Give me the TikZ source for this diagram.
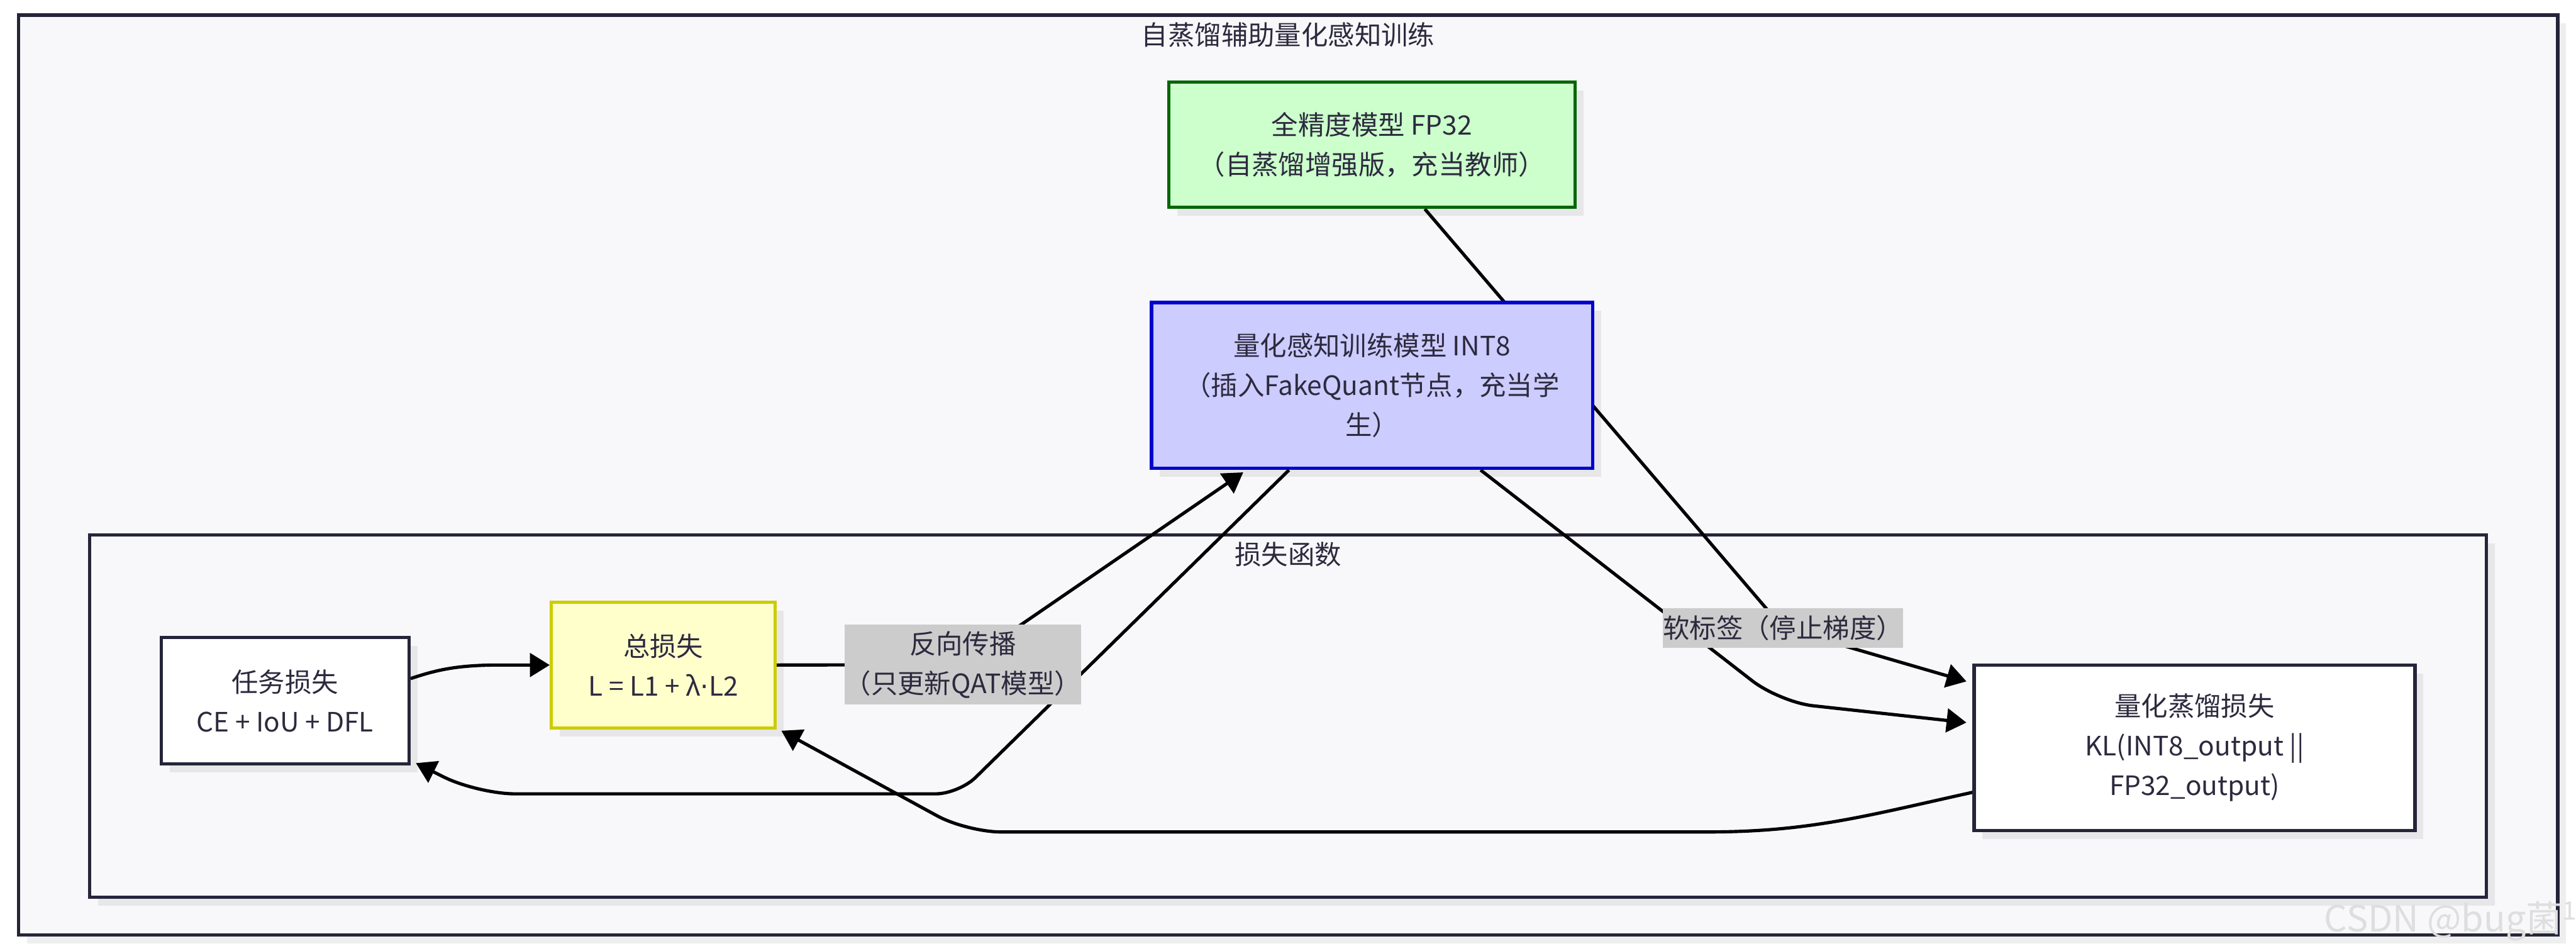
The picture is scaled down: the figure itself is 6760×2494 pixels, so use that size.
\documentclass[tikz,border=0pt]{standalone}
\usepackage{fontspec}
\setmainfont{Noto Sans CJK SC}
\newfontfamily\dotfont{DejaVu Sans}
\usetikzlibrary{arrows.meta,calc,shadows}
\definecolor{bgc}{RGB}{248,248,250}
\definecolor{framec}{RGB}{37,37,58}
\definecolor{textc}{RGB}{45,42,62}
\definecolor{greenf}{HTML}{CCFFCC}
\definecolor{greend}{HTML}{006600}
\definecolor{bluef}{HTML}{CCCCFF}
\definecolor{blued}{HTML}{0000CC}
\definecolor{yelf}{HTML}{FFFFCC}
\definecolor{yeld}{HTML}{CCCC00}
\definecolor{lblc}{HTML}{CCCCCC}
\definecolor{wmc}{RGB}{222,222,222}
\pgfdeclarelayer{back}
\pgfdeclarelayer{edges}
\pgfdeclarelayer{front}
\pgfsetlayers{back,edges,main,front}
\begin{document}
\begin{tikzpicture}[x=0.01cm,y=-0.01cm,
  txt/.style={font=\fontsize{19.9pt}{29.6pt}\selectfont, text=textc, align=center},
  myshadow/.style={drop shadow={shadow xshift=0.22cm, shadow yshift=-0.22cm, fill=black, opacity=0.065}},
  box/.style={txt, draw, line width=0.086cm, inner sep=0pt, myshadow},
  frame/.style={draw=framec, fill=bgc, line width=0.09cm, inner sep=0pt, myshadow},
  elabel/.style={txt, fill=lblc, inner xsep=0pt, inner ysep=0pt},
  edge/.style={draw=black, line width=0.085cm, -{Triangle[length=0.52cm,width=0.62cm]}}]

\useasboundingbox (0,0) rectangle (6760,2494);

\begin{pgfonlayer}{back}
  \fill[white] (0,0) rectangle (6760,2494);
  \node[frame, minimum width=66.59cm, minimum height=24.13cm] (outer) at (3380.5,1246.5) {};
  \node[frame, minimum width=62.86cm, minimum height=9.50cm] (lossgrp) at (3380,1879) {};
  \node[txt] (ttlouter) at (3380,91) {自蒸馏辅助量化感知训练};
  \node[txt] (ttlloss) at (3380,1455) {损失函数};
\end{pgfonlayer}

% nodes
\node[box, draw=greend, fill=greenf, minimum width=10.66cm, minimum height=3.29cm] (fp32) at (3600,379.5)
  {全精度模型 FP32\\（自蒸馏增强版，充当教师）};
\node[box, draw=blued, fill=bluef, minimum width=11.57cm, minimum height=4.35cm] (int8) at (3600.5,1011.5)
  {量化感知训练模型 INT8\\（插入FakeQuant节点，充当学\\生）};
\node[box, draw=framec, fill=white, minimum width=6.50cm, minimum height=3.31cm] (task) at (748,1838.5)
  {任务损失\\CE + IoU + DFL};
\node[box, draw=yeld, fill=yelf, minimum width=5.87cm, minimum height=3.30cm] (total) at (1740.5,1745)
  {总损失\\L = L1 + λ{\dotfont ·}L2};
\node[box, draw=framec, fill=white, minimum width=11.56cm, minimum height=4.34cm] (kl) at (5759,1962)
  {量化蒸馏损失\\KL(INT8\_output ||\\FP32\_output)};

% edge labels
\node[elabel, minimum width=6.13cm, minimum height=2.10cm] (lbl1) at (2526.5,1744) {反向传播\\（只更新QAT模型）};
\node[elabel, minimum width=6.26cm, minimum height=1.04cm] (lbl2) at (4679,1648) {软标签（停止梯度）};

\begin{pgfonlayer}{edges}
  % task loss -> total loss
  \draw[edge] ($(task.east)+(0,-58)$) .. controls (1140,1760) and (1190,1746) .. (1300,1745) -- (total.west);
  % total loss -> INT8 (backprop)
  \draw[edge] (total.east) -- (lbl1.center) -- ($(int8.south)+(-338,6)$);
  % INT8 -> task loss
  \draw[edge] ($(int8.south)+(-218,0)$) -- (2559,2041) .. controls (2535,2064) and (2489,2083) .. (2456,2083)
     -- (1352,2083) .. controls (1297,2083) and (1212,2063) .. (1163,2038) -- ($(task.south east)+(14,-6)$);
  % KL -> total loss
  \draw[edge] ($(kl.west)+(0,117)$) .. controls (4900,2140) and (4750,2183) .. (4480,2183)
     -- (2627,2183) .. controls (2577,2183) and (2501,2164) .. (2458,2140) -- ($(total.south east)+(12,3)$);
  % FP32 -> KL (soft labels)
  \draw[edge] ($(fp32.south)+(139,0)$) -- (lbl2.center) -- ($(kl.west)+(-16,-174)$);
  % INT8 -> KL
  \draw[edge] ($(int8.south)+(285,0)$) -- (4599,1787) .. controls (4638,1817) and (4710,1847) .. (4759,1852)
     -- ($(kl.west)+(-16,-66)$);
\end{pgfonlayer}

\begin{pgfonlayer}{front}
  \node[font=\fontsize{27pt}{30pt}\selectfont, text=wmc, anchor=base west, inner sep=0pt] (wm) at (6099,2445)
    {CSDN @bug菌\textsuperscript{1}};
\end{pgfonlayer}
\end{tikzpicture}
\end{document}
